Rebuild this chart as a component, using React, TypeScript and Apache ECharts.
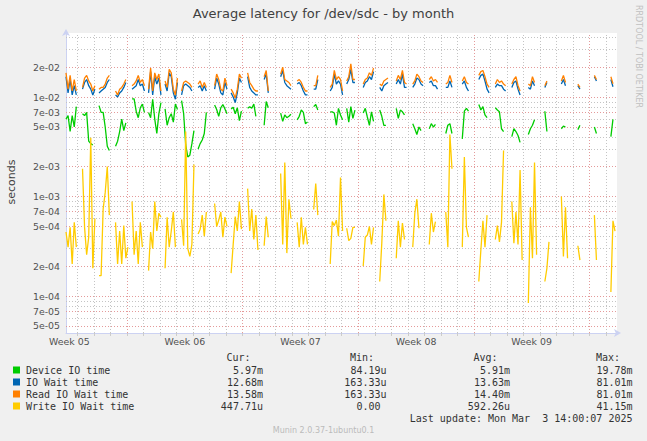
import React, { useEffect, useRef } from 'react';
import * as echarts from 'echarts';

// ---- time axis (days relative to Monday of Week 06) ----
const SLOTS_PER_DAY = 8; // 3-hour resolution
const AXIS_START = -3.7;
const AXIS_END = 29.67;
const weekLabels = ['Week 05', 'Week 06', 'Week 07', 'Week 08', 'Week 09'];
const weekLabelDays = [-3.5, 3.5, 10.5, 17.5, 24.5];
const weekStartDays = [0, 7, 14, 21, 28];

// ---- log value axis (seconds) ----
const Y_MIN = 4.25e-5;
const Y_MAX = 4.4e-2;
const yLabelValues = [5e-5, 7e-5, 1e-4, 2e-4, 5e-4, 7e-4, 1e-3, 2e-3, 5e-3, 7e-3, 1e-2, 2e-2];
const yMinorValues = [6e-5, 8e-5, 9e-5, 3e-4, 4e-4, 6e-4, 8e-4, 9e-4, 3e-3, 4e-3, 6e-3, 8e-3, 9e-3, 3e-2, 4e-2];

// ---- series (milliseconds), one row per day, 3-hour samples; gaps between rows ----
const deviceIoMs: number[][] = [
  [6.0, 6.5, 4.5, 6.5, 5.0, 8.0],
  [6.8, 6.5, 7.0, 3.6, 3.4, 3.3],
  [8.2, 7.0, 7.0, 5.0, 3.2, 2.9],
  [3.2, 3.6, 4.5, 6.0, 4.6, 5.5],
  [9.6, 9.6, 7.2, 6.2, 7.8, 8.5, 7.0],
  [7.0, 6.2, 9.5, 6.0, 4.3, 6.8, 8.8],
  [7.6, 5.2, 6.2, 6.8, 5.6, 8.5, 7.5],
  [9.2, 6.8, 3.3, 2.5, 2.6, 3.4, 4.6],
  [3.0, 3.4, 3.7, 4.3, 7.0],
  [8.3, 7.5, 6.4, 7.8, 8.4, 7.6, 6.8],
  [7.6, 7.9, 6.8, 7.8, 5.8, 7.2],
  [7.7, 8.0, 7.7, 8.5, 6.4],
  [5.2, 9.0, 7.8],
  [6.9, 5.7, 6.6, 6.2, 6.4, 6.7],
  [5.9, 6.4, 7.4, 7.0, 5.4, 5.6],
  [8.0, 8.4, 7.4],
  [7.1, 7.1, 6.9, 5.2, 7.7, 6.6, 5.9],
  [7.7, 5.6, 8.0, 6.1, 7.4],
  [6.9, 7.7, 6.3, 5.2, 7.1, 5.7],
  [7.4, 6.4, 5.2, 5.2],
  [7.7, 6.1, 7.4, 7.1, 6.6],
  [5.4, 4.8, 4.2, 5.0, 4.6],
  [4.8, 5.4, 5.0, 5.3],
  [4.3, 5.2, 5.4, 4.3],
  [3.8, 7.2, 7.7, 7.2],
  [8.4, 7.4, 8.0, 6.6, 6.2],
  [7.8, 7.4, 7.1, 4.8, 4.5],
  [4.0, 4.8, 4.5, 4.1, 3.5],
  [4.2, 4.8, 5.2, 5.9],
  [7.2, 4.5],
  [4.8, 5.1, 5.0],
  [4.7, 5.2],
  [5.0, 4.3],
  [4.0, 5.97],
];

const ioWaitMs: number[][] = [
  [16, 11, 15, 10.5, 13, 10.5],
  [12, 14, 15, 13, 12, 10.5, 12],
  [11, 11.5, 12, 12.5, 14, 15],
  [10.5, 10, 11, 11.5, 12.5, 14],
  [12, 12.5, 13, 15, 13, 13.5, 11.5],
  [11, 18, 10.5, 16, 13.5, 15.5, 10.5],
  [13.5, 11.5, 17.5, 16, 11, 9.5, 14],
  [10.5, 13, 13.5, 13, 12.5, 11.5],
  [12.5, 13, 11.5, 13, 11.5],
  [12, 15.5, 13.5, 11, 10.5, 14, 12],
  [11, 10, 8.8, 11, 15.5, 14],
  [16, 12.5, 11.5, 11, 10.5, 10.5],
  [15, 17, 11],
  [16, 18.5, 14, 13, 12.5, 12],
  [13.5, 14, 13, 11.5, 10.5, 10.5],
  [12, 12, 15],
  [11.5, 12.5, 17, 13.5, 14.5, 13.5, 10.5],
  [13.5, 15, 19, 14, 14],
  [12.5, 14, 14.5, 16, 15, 18],
  [12.5, 11.5, 13, 13.5, 14],
  [13.5, 15, 13.5, 17, 12.5, 12.5],
  [12.5, 13.5, 15.5, 15, 13.5, 13],
  [14, 14.5, 13, 13, 12],
  [12.5, 12.5, 14.5, 12.5],
  [13.5, 14.5, 12.5, 11.5],
  [15, 16.5, 17, 14.5, 12, 11],
  [12.5, 13.5, 13, 13, 12, 11.5],
  [12.5, 14, 14.5, 12, 10.5],
  [12.5, 12, 14.5, 13],
  [12.5, 14],
  [13.5, 15, 13],
  [13, 12],
  [16, 14.5],
  [15, 12.68],
];

const readWaitMs: number[][] = [
  [17.5, 12, 16.5, 11.5, 15, 11.5],
  [12.5, 15.5, 16.5, 14.5, 13.5, 11.5, 13],
  [12, 12.5, 12.5, 13.5, 15.5, 16.5],
  [11.5, 10.5, 12, 12.5, 13.5, 15],
  [13, 13.5, 14.5, 16.5, 14, 15, 13],
  [12, 19.5, 11.5, 17.5, 15, 17, 11.5],
  [14.5, 12.5, 19, 17.5, 12, 10.5, 15.5],
  [11.5, 14, 14.5, 14, 13.5, 12.5],
  [13.5, 14.5, 12.5, 14, 12.5],
  [13, 17, 15, 12, 11.5, 15.5, 13],
  [12, 11, 9.8, 12, 17, 15.5],
  [17.5, 14, 13, 12, 11.5, 11.5],
  [16, 18.5, 11.5],
  [17, 20, 15, 14.5, 14, 13],
  [14.5, 15, 14, 12.5, 11.5, 11.5],
  [13, 13, 16.5],
  [12.5, 13.5, 18.5, 15, 16, 15, 11.5],
  [14.5, 16, 21.5, 15, 15],
  [13.5, 15, 15.5, 17.5, 16.5, 19.5],
  [13.5, 13, 14.5, 15, 15.5],
  [14.5, 16.5, 15, 18.5, 14, 13.5],
  [13.5, 14.5, 17, 16, 14.5, 14],
  [15, 16, 14.5, 15, 14],
  [13.5, 14, 16.5, 14],
  [14.5, 16, 14, 13.5],
  [16.5, 18, 18.5, 16, 13.5, 12.5],
  [13.5, 15, 14, 14.5, 13.5, 13],
  [13.5, 15, 16, 13, 11.5],
  [13.5, 13, 16, 14],
  [13, 14.5],
  [14.5, 16.5, 14],
  [13.5, 12.5],
  [16.5, 15],
  [16, 13.58],
];

const writeWaitMs: number[][] = [
  [0.44, 0.31, 0.49, 0.21, 0.55, 0.31],
  [1.9, 0.49, 0.26, 0.39, 3.9, 0.19, 0.6],
  [0.16, 0.16, 0.75, 1.1, 2.0, 0.65],
  [0.55, 0.21, 0.45, 0.21, 0.51, 0.24, 0.31],
  [0.89, 0.26, 0.45, 0.21, 0.55, 0.31],
  [0.18, 0.44, 0.3, 0.89, 0.45, 0.68, 0.62],
  [0.19, 0.62, 0.31, 0.45, 0.7, 0.31],
  [0.59, 0.32, 4.5, 0.3, 0.25, 0.33, 2.1],
  [0.42, 0.47, 0.65, 0.4, 0.7],
  [0.85, 0.5, 0.58, 0.7, 0.39, 0.62, 0.5],
  [0.17, 0.33, 0.63, 0.45, 0.89, 0.47],
  [1.2, 0.45, 0.75, 0.37, 0.65, 0.29],
  [0.32, 0.63, 0.39],
  [1.7, 0.33, 2.2, 0.27, 0.94, 0.6],
  [0.55, 0.31, 0.62, 0.33, 0.49, 0.33],
  [0.74, 1.35, 0.65],
  [0.21, 0.56, 0.51, 0.58, 0.4, 1.55, 0.45],
  [0.48, 0.36, 0.38, 0.49, 0.49],
  [0.2, 0.39, 0.41, 0.5, 0.33, 0.49],
  [0.14, 0.34, 1.05, 0.57],
  [0.24, 0.57, 0.31, 0.54, 0.37],
  [0.31, 0.68, 0.94, 0.48],
  [0.33, 0.68, 0.44, 0.56],
  [0.7, 0.31, 4.2, 1.9],
  [0.31, 2.5, 0.49, 0.39],
  [0.14, 0.29, 0.57, 0.31, 0.65],
  [0.37, 0.51, 0.35, 0.55, 2.9],
  [0.89, 0.34, 0.7, 0.33, 1.85, 0.23],
  [0.085, 0.78, 0.24, 2.2, 0.26],
  [0.14, 0.19, 0.35],
  [1.0, 0.25, 0.78, 0.24],
  [0.32, 0.23],
  [0.65, 0.23],
  [0.11, 0.57, 0.448],
];

// ---- legend ----
const seriesNames = ['Device IO time', 'IO Wait time', 'Read IO Wait time', 'Write IO Wait time'];
const seriesColors = ['#00CC00', '#0066B3', '#FF8000', '#FFCC00'];
const columnHeaders = ['Cur:', 'Min:', 'Avg:', 'Max:'];
const curValues = ['5.97m', '12.68m', '13.58m', '447.71u'];
const minValues = ['84.19u', '163.33u', '163.33u', '0.00'];
const avgValues = ['5.91m', '13.63m', '14.40m', '592.26u'];
const maxValues = ['19.78m', '81.01m', '81.01m', '41.15m'];
const titleText = 'Average latency for /dev/sdc - by month';
const yAxisTitle = 'seconds';
const lastUpdate = 'Last update: Mon Mar  3 14:00:07 2025';
const muninVersion = 'Munin 2.0.37-1ubuntu0.1';
const rrdCredit = 'RRDTOOL / TOBI OETIKER';

function toPoints(segs: number[][]) {
  const pts: (number | string)[][] = [];
  segs.forEach((seg, k) => {
    seg.forEach((ms, j) => pts.push([AXIS_START + k + j / SLOTS_PER_DAY, Math.log10(ms / 1000)]));
    pts.push([AXIS_START + k + seg.length / SLOTS_PER_DAY, '-']);
  });
  return pts;
}

function fmtExp(v: number) {
  const s = Math.pow(10, v).toExponential(0);
  const [m, e] = s.split('e');
  const ex = parseInt(e, 10);
  return `${m}e${ex < 0 ? '-' : '+'}${String(Math.abs(ex)).padStart(2, '0')}`;
}

export default function App() {
  const ref = useRef<HTMLDivElement>(null);
  useEffect(() => {
    if (!ref.current) return;
    const chart = echarts.init(ref.current, undefined, { renderer: 'svg' });

    const minorStyle = { color: '#C4C4C4', type: [1, 2] as any, width: 1 };
    const majorStyle = { color: '#E49A9A', type: [1, 2] as any, width: 1 };
    const dayLines: number[] = [];
    for (let d = Math.ceil(AXIS_START); d <= Math.floor(AXIS_END); d++) dayLines.push(d);

    const gridLines: any[] = [
      ...dayLines.filter((d) => !weekStartDays.includes(d)).map((d) => ({ xAxis: d, lineStyle: minorStyle })),
      ...yMinorValues.map((v) => ({ yAxis: Math.log10(v), lineStyle: minorStyle })),
      ...yLabelValues.map((v) => ({ yAxis: Math.log10(v), lineStyle: majorStyle })),
      ...weekStartDays.map((d) => ({ xAxis: d, lineStyle: majorStyle })),
    ];

    const allSegs = [deviceIoMs, ioWaitMs, readWaitMs, writeWaitMs];
    const series: any[] = allSegs.map((segs, i) => ({
      name: seriesNames[i],
      type: 'line',
      data: toPoints(segs),
      showSymbol: false,
      symbol: 'none',
      connectNulls: false,
      silent: true,
      z: 3,
      lineStyle: { color: seriesColors[i], width: 1.3 },
      itemStyle: { color: seriesColors[i] },
      ...(i === 0
        ? {
            markLine: {
              silent: true,
              z: 1,
              symbol: ['none', 'none'],
              label: { show: false },
              animation: false,
              data: gridLines,
            },
          }
        : {}),
    }));

    const mono = 'DejaVu Sans Mono';
    const sans = 'DejaVu Sans';
    const textColor = '#333333';
    const colRight = [263, 386.5, 510, 632.5];
    const rowY = [370, 382, 394, 406];
    const columns = [curValues, minValues, avgValues, maxValues];

    const graphics: any[] = [];
    const txt = (text: string, x: number, y: number, opts: any = {}) => ({
      type: 'text',
      x,
      y,
      rotation: opts.rotation || 0,
      silent: true,
      style: {
        text,
        fill: opts.fill || textColor,
        fontFamily: opts.family || mono,
        fontSize: opts.size || 10,
        textAlign: opts.align || 'left',
        align: opts.align || 'left',
        textVerticalAlign: 'middle',
        verticalAlign: 'middle',
      },
    });

    graphics.push(txt(titleText, 323.5, 13, { family: sans, size: 13, align: 'center', fill: '#404040' }));
    graphics.push(txt(yAxisTitle, 11, 182, { family: sans, size: 11, align: 'center', fill: '#404040', rotation: Math.PI / 2 }));
    graphics.push(txt(rrdCredit, 638, 5, { family: sans, size: 8, fill: '#C0C0C0', rotation: -Math.PI / 2 }));

    columnHeaders.forEach((h, c) => graphics.push(txt(h, colRight[c] - 12.5, 357, { align: 'right' })));
    seriesNames.forEach((name, r) => {
      graphics.push({
        type: 'rect',
        silent: true,
        shape: { x: 13, y: rowY[r] - 3.5, width: 7, height: 7 },
        style: { fill: seriesColors[r] },
      });
      graphics.push(txt(name, 26, rowY[r]));
      columns.forEach((col, c) => {
        const v = col[r];
        const hasUnit = /[a-zA-Z]$/.test(v);
        graphics.push(txt(v, colRight[c] - (hasUnit ? 0 : 6), rowY[r], { align: 'right' }));
      });
    });
    graphics.push(txt(lastUpdate, 632.5, 418, { align: 'right' }));
    graphics.push(txt(muninVersion, 323.5, 430, { family: sans, size: 8, align: 'center', fill: '#BBBBBB' }));

    const axisColor = '#CCD2F2';
    chart.setOption({
      animation: false,
      backgroundColor: '#F0F0F0',
      grid: {
        left: 66,
        right: 30,
        top: 33,
        bottom: 108,
        show: true,
        backgroundColor: '#FFFFFF',
        borderWidth: 0,
      },
      xAxis: {
        type: 'value',
        min: AXIS_START,
        max: AXIS_END,
        splitLine: { show: false },
        axisLine: {
          show: true,
          lineStyle: { color: axisColor, width: 1 },
          symbol: ['none', 'arrow'],
          symbolSize: [6, 7],
          symbolOffset: [0, 4],
        },
        axisTick: {
          show: true,
          customValues: dayLines,
          length: 3,
          lineStyle: { color: '#CCCCCC' },
        },
        axisLabel: {
          customValues: weekLabelDays,
          formatter: (v: number) => {
            let best = 0;
            weekLabelDays.forEach((d, i) => {
              if (Math.abs(d - v) < Math.abs(weekLabelDays[best] - v)) best = i;
            });
            return weekLabels[best];
          },
          color: '#505050',
          fontFamily: sans,
          fontSize: 9.4,
          margin: 4,
        },
      },
      yAxis: {
        type: 'value',
        min: Math.log10(Y_MIN),
        max: Math.log10(Y_MAX),
        splitLine: { show: false },
        axisTick: { show: false },
        axisLine: {
          show: true,
          onZero: false,
          lineStyle: { color: axisColor, width: 1 },
          symbol: ['none', 'arrow'],
          symbolSize: [6, 7],
          symbolOffset: [0, 4],
        },
        axisLabel: {
          customValues: yLabelValues.map((v) => Math.log10(v)),
          formatter: (v: number) => fmtExp(v),
          color: '#505050',
          fontFamily: sans,
          fontSize: 9.4,
          margin: 6,
        },
      },
      series,
      graphic: { elements: graphics },
    });
    return () => chart.dispose();
  }, []);

  return (
    <div
      ref={ref}
      style={{ position: 'fixed', left: 0, top: 0, width: 647, height: 441, background: '#F0F0F0' }}
    />
  );
}
